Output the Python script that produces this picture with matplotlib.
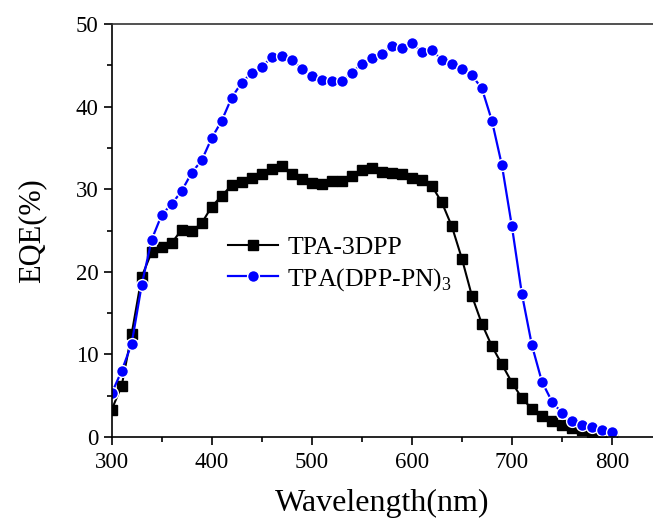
import matplotlib

matplotlib.use("Agg")
import matplotlib.pyplot as plt
from matplotlib.ticker import MultipleLocator

plt.rcParams["font.family"] = ["Liberation Serif", "DejaVu Serif"]
plt.rcParams["mathtext.fontset"] = "custom"
plt.rcParams["mathtext.rm"] = "Liberation Serif"

# 波長 300-800 nm, 10 nm 刻み
wavelength = list(range(300, 801, 10))
tpa_3dpp = [
    3.3, 6.2, 12.5, 19.4, 22.4, 23.0, 23.5, 25.1, 24.9, 25.9,
    27.9, 29.2, 30.5, 30.9, 31.4, 31.8, 32.5, 32.8, 31.9, 31.3,
    30.7, 30.6, 31.0, 31.0, 31.6, 32.3, 32.6, 32.1, 32.0, 31.9,
    31.4, 31.1, 30.4, 28.4, 25.5, 21.6, 17.1, 13.7, 11.0, 8.8,
    6.6, 4.7, 3.4, 2.5, 2.0, 1.5, 1.1, 0.85, 0.57, 0.33, 0.2,
]
tpa_dpp_pn3 = [
    5.3, 8.0, 11.3, 18.4, 23.9, 26.9, 28.2, 29.8, 32.0, 33.5,
    36.2, 38.3, 41.1, 42.9, 44.1, 44.8, 46.0, 46.1, 45.7, 44.6,
    43.7, 43.2, 43.1, 43.1, 44.1, 45.2, 45.9, 46.4, 47.4, 47.1,
    47.7, 46.6, 46.8, 45.7, 45.2, 44.6, 43.8, 42.2, 38.3, 32.9,
    25.5, 17.3, 11.1, 6.7, 4.3, 2.9, 2.0, 1.5, 1.2, 0.85, 0.6,
]
labels = ["TPA-3DPP", r"TPA(DPP-PN)$_\mathregular{3}$"]

fig = plt.figure(figsize=(6.53, 5.23), dpi=100)
ax = fig.add_axes([0.171, 0.1644, 0.829, 0.7896])

ax.plot(wavelength, tpa_3dpp, "-", color="black", lw=1.5,
        marker="s", ms=6.5, label=labels[0])
# 青は Origin 風にマーカーの周りで線を切る(白縁で代用)
ax.plot(wavelength, tpa_dpp_pn3, "-", color="#0000ff", lw=1.6,
        marker="o", ms=8.5, markeredgecolor="white", markeredgewidth=1.0,
        label=labels[1])

ax.set_xlim(300, 841)
ax.set_ylim(0, 50)
ax.xaxis.set_minor_locator(MultipleLocator(50))
ax.yaxis.set_major_locator(MultipleLocator(10))
ax.yaxis.set_minor_locator(MultipleLocator(5))
ax.set_xticks([300, 400, 500, 600, 700, 800])
ax.tick_params(which="major", length=6, width=1.2, labelsize=16.5, direction="out")
ax.tick_params(axis="x", which="major", pad=5)
ax.tick_params(which="minor", length=3.5, width=1.2, direction="out")
ax.spines["right"].set_visible(False)
for s in ("left", "bottom", "top"):
    ax.spines[s].set_linewidth(1.2)
ax.spines["top"].set_color("#333333")

ax.set_xlabel("Wavelength(nm)", fontsize=23, labelpad=11)
ax.set_ylabel("EQE(%)", fontsize=22, labelpad=21)

ax.legend(loc="upper left", bbox_to_anchor=(0.215, 0.486), frameon=False,
          fontsize=18.5, borderpad=0, borderaxespad=0, handlelength=1.95,
          handletextpad=0.35, labelspacing=0.25)

fig.savefig("out.png", dpi=100)
